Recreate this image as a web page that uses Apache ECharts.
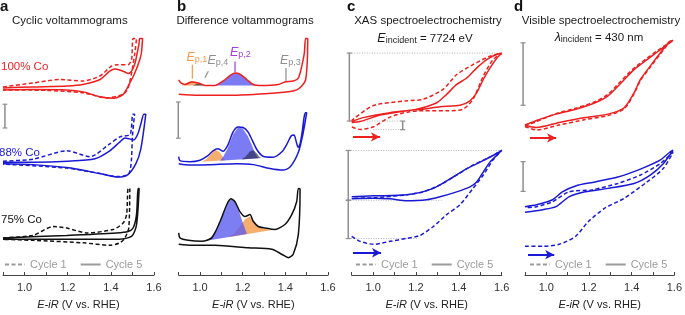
<!DOCTYPE html>
<html>
<head>
<meta charset="utf-8">
<script src="https://cdn.jsdelivr.net/npm/echarts@6.0.0/dist/echarts.min.js"></script>
<style>
  html, body { margin: 0; padding: 0; background: #fff; }
  #chart { width: 685px; height: 315px; }
</style>
</head>
<body>
<div id="chart"></div>
<script>
'use strict';

// x: E-iR (V vs. RHE); y: arbitrary units with the stacking offsets already included
const TICK_LABELS = ['1.0', '1.2', '1.4', '1.6'];
const LEGEND_NAMES = ['Cycle 1', 'Cycle 5'];

// a — cyclic voltammograms
const cvRed5 = [[0.9,189],[1.04,190],[1.2,191],[1.27,192.5],[1.35,197.5],[1.395,206],[1.42,208],[1.44,207],[1.465,205],[1.48,203.5],[1.496,206],[1.512,214],[1.522,224],[1.53,233],[1.534,239],
  [1.547,239],[1.542,225],[1.534,217.5],[1.511,204],[1.488,194],[1.457,182.5],[1.411,178.5],[1.349,180],[1.272,185],[1.195,187],[1.04,187.5],[0.9,187]];
const cvRed1 = [[0.9,190],[1.04,194],[1.164,197.5],[1.272,196],[1.349,201],[1.403,211],[1.434,212.5],[1.48,212.5],[1.496,217.5],[1.503,239],
  [1.519,239],[1.511,224],[1.496,204],[1.48,189],[1.457,182.5],[1.38,179],[1.272,184],[1.1,186.5],[0.9,187]];
const cvBlue5 = [[0.9,114],[1.04,114],[1.2,115],[1.326,117.5],[1.395,125.5],[1.442,134.5],[1.465,138.5],[1.488,137.5],[1.506,136.5],[1.525,142.5],[1.539,152.5],[1.553,162.5],
  [1.562,162.5],[1.539,127.5],[1.516,112.5],[1.479,101.5],[1.432,99],[1.349,102.5],[1.196,108.5],[1.039,111.5],[0.9,112.5]];
const cvBlue1 = [[0.9,115],[1.04,117],[1.196,125.5],[1.303,119.5],[1.395,132.5],[1.442,139.5],[1.488,141.5],[1.495,148],[1.502,162.5],
  [1.51,162.5],[1.5,140],[1.495,115],[1.485,103],[1.46,100],[1.432,99.5],[1.349,102.5],[1.196,108],[0.9,112]];
const cvBlack5 = [[0.9,37.5],[1.195,40],[1.426,42.5],[1.48,44],[1.503,47.5],[1.519,61],[1.526,87.5],
  [1.531,87.5],[1.519,51],[1.496,39],[1.411,36],[1.195,36],[0.9,36]];
const cvBlack1 = [[0.9,37.5],[1.039,40],[1.133,49],[1.195,47.5],[1.288,42.5],[1.411,46],[1.457,52.5],[1.473,61],[1.48,87.5],
  [1.488,87.5],[1.483,47.5],[1.465,37.5],[1.442,32.5],[1.395,30],[1.272,32.5],[1.04,35],[0.9,36]];

// b — difference voltammograms and fitted peaks
const dvRed = [[0.9,197],[0.91,194],[0.93,192.5],[0.961,195],[0.992,194],[1.023,191.5],[1.07,191.5],[1.109,196],[1.14,201.5],[1.164,204],[1.187,203],[1.219,197.5],[1.25,192.5],[1.289,191.5],[1.367,192.5],[1.398,195],[1.437,196],[1.461,199],[1.477,211],[1.489,224],[1.495,239],
  [1.505,239],[1.503,217],[1.495,197],[1.477,191],[1.453,187],[1.414,185],[1.305,183],[1.148,181.5],[0.992,181.5],[0.9,182.5]];
const dvBlue = [[0.9,119.5],[0.906,115.5],[0.953,114.5],[1.0,116],[1.037,120.5],[1.061,125.5],[1.084,127.5],[1.108,125],[1.131,131.5],[1.155,144.5],[1.178,149.5],[1.202,149],[1.225,144.5],[1.244,136.5],[1.267,126.5],[1.295,120],[1.342,119],[1.384,124.5],[1.408,132.5],[1.427,140.5],[1.441,141.5],[1.45,135.5],[1.46,129],[1.469,132.5],[1.479,144.5],[1.488,159.5],[1.495,164],
  [1.5,164],[1.484,144],[1.461,124],[1.422,109],[1.39,106],[1.328,107.5],[1.25,111.5],[1.172,112.5],[1.047,111.5],[0.953,111],[0.9,112.5]];
const dvBlack = [[0.9,42.5],[0.906,37.5],[0.945,35],[1.008,34],[1.055,37.5],[1.094,54],[1.125,71],[1.145,77],[1.164,74],[1.187,64],[1.211,59],[1.234,61],[1.25,54],[1.273,49],[1.305,47.5],[1.351,46],[1.398,51],[1.43,61],[1.453,74],[1.461,87.5],
  [1.469,87],[1.461,41],[1.437,21],[1.414,17.5],[1.383,21],[1.336,26],[1.226,27.5],[1.07,30],[0.961,30],[0.9,31]];
const fitRedP1 = [[0.915,191.5],[0.93,193],[0.945,195],[0.961,196],[0.978,195],[0.995,193],[1.01,191.5]];
const fitRedP4 = [[0.967,191.5],[0.98,192.8],[0.992,193.5],[1.005,192.8],[1.023,191.5]];
const fitRedP2 = [[1.07,191.5],[1.1,194],[1.125,198.5],[1.145,202.5],[1.164,204],[1.187,203],[1.21,199],[1.235,194.5],[1.26,192],[1.29,191.5]];
const fitBlueP1 = [[1.008,114.3],[1.03,117],[1.05,122],[1.07,126.5],[1.09,124.5],[1.105,120],[1.117,115.8]];
const fitBlueP2 = [[1.094,115.4],[1.11,120],[1.13,128],[1.155,142],[1.178,149],[1.2,148],[1.225,140],[1.245,130],[1.26,122],[1.273,117.9]];
const fitBlueP4 = [[1.195,116.8],[1.215,120],[1.235,125],[1.25,126],[1.265,123],[1.28,119],[1.289,118.1]];
const fitBlackP2 = [[1.023,34.3],[1.05,38],[1.08,47],[1.1,57],[1.125,71],[1.145,77],[1.165,73.5],[1.185,63],[1.2,53],[1.22,41.3]];
const fitBlackP1 = [[1.131,38.2],[1.16,42],[1.19,50],[1.21,56],[1.234,59],[1.255,54],[1.275,49.5],[1.3,47],[1.325,46],[1.351,46]];

// c — XAS at 7724 eV
const xasRed5 = [[0.9,154],[0.939,155],[1.032,161.5],[1.157,166],[1.234,167.5],[1.312,170],[1.405,171.5],[1.452,176],[1.483,184],[1.514,197.5],[1.545,209],[1.577,219],[1.6,224],
  [1.577,223],[1.53,217.5],[1.483,209],[1.437,199],[1.39,192.5],[1.343,182.5],[1.297,174],[1.203,167.5],[1.079,164],[0.954,159],[0.9,155]];
const xasRed1 = [[0.901,149.5],[0.939,147],[0.999,149.5],[1.079,159.5],[1.158,164.5],[1.233,166],[1.345,166],[1.419,167.5],[1.466,177.5],[1.513,200.5],[1.559,217.5],[1.6,224],
  [1.545,221],[1.466,212.5],[1.39,202.5],[1.326,187.5],[1.233,177.5],[1.158,176],[0.999,171],[0.9,156]];
const xasBlue5 = [[0.9,77],[1.001,77.5],[1.079,77],[1.157,75],[1.25,76],[1.312,79],[1.39,84],[1.452,89],[1.483,94],[1.514,104],[1.545,114],[1.577,121],[1.6,126],
  [1.561,121],[1.499,114],[1.437,107.5],[1.374,99],[1.281,87.5],[1.157,81],[1.001,80],[0.9,79]];
const xasBlue1 = [[0.9,39],[0.939,34],[1.001,31],[1.079,34],[1.157,37],[1.219,40],[1.281,49],[1.343,61],[1.405,71],[1.466,87.5],[1.514,101],[1.559,116],[1.6,126],
  [1.545,119],[1.466,111],[1.39,101],[1.312,91],[1.234,84],[1.157,81],[1.001,78],[0.9,77.5]];

// d — visible absorbance at 430 nm
const visRed5 = [[0.9,151],[0.954,149],[1.06,154],[1.182,159],[1.289,162.5],[1.365,169],[1.411,184],[1.441,197.5],[1.487,211],[1.533,224],[1.578,236],[1.594,237],
  [1.533,227.5],[1.472,217.5],[1.411,207.5],[1.35,194],[1.289,181],[1.228,174],[1.137,167.5],[1.045,162.5],[0.954,156],[0.9,151.5]];
const visRed1 = [[0.9,150],[0.954,146.5],[1.06,151.5],[1.182,157],[1.289,161],[1.365,168],[1.411,183],[1.441,196.5],[1.487,210],[1.533,223],[1.578,235],[1.594,237],
  [1.533,228.5],[1.472,219],[1.411,209],[1.35,196],[1.289,182.5],[1.228,175],[1.137,168.5],[1.045,163],[0.954,155],[0.9,150.5]];
const visBlue5 = [[0.9,63.5],[0.984,66],[1.045,69],[1.106,79],[1.182,84],[1.289,87.5],[1.411,92.5],[1.487,101],[1.548,112.5],[1.594,126],
  [1.578,124],[1.533,116],[1.441,107],[1.335,99],[1.228,94],[1.137,90],[1.075,84],[1.029,76],[0.954,71],[0.9,69]];
const visBlue1 = [[0.9,29],[0.984,29],[1.06,31],[1.137,39],[1.197,54],[1.274,67.5],[1.365,77.5],[1.472,94],[1.548,107.5],[1.594,124],
  [1.533,112.5],[1.441,101],[1.335,92.5],[1.212,86],[1.106,84],[1.029,74],[0.954,69],[0.9,68]];

// scale bars [x, yBottom, yTop], dotted guides [x1, x2, y] and arrows [x1, x2, y, colour], in axis units
const barsA = [[0.909, 148.5, 172.5]];
const barsB = [[0.898, 138.2, 174.8]];
const barsC = [[0.889, 155.5, 224.2], [1.138, 146.8, 155.5], [0.884, 75.5, 125.8], [0.884, 36.8, 75.5]];
const dotsC = [[0.889, 1.6, 224.2], [0.889, 1.125, 155.5], [1.0, 1.138, 146.8], [0.884, 1.6, 125.8], [0.884, 1.327, 75.5], [0.884, 1.203, 36.8]];
const barsD = [[0.891, 171.5, 234.5], [0.891, 84.5, 114.5]];
const arrowsC = [[0.906, 1.032, 139.5, 'red'], [0.906, 1.037, 22.5, 'blue']];
const arrowsD = [[0.923, 1.046, 138.5, 'red'], [0.914, 1.037, 20.5, 'blue']];
// peak markers in b: [x1, y1, x2, y2, colour]
const peakTicks = [[0.964, 198.2, 0.964, 212.5, 'orange'], [1.023, 199.2, 1.039, 205.8, 'gray'], [1.164, 204.8, 1.164, 215.8, 'purple'], [1.403, 195.8, 1.403, 209.2, 'gray']];

const C = {
  red: '#ee1f1f', blue: '#1a1ad6', black: '#111111', gray: '#8e8e8e', legend: '#9b9b9b',
  orange: '#f39a4a', fillBlue: '#5a5af0', navy: '#26264e', purple: '#a43ddb', axis: '#444'
};
const FONT = '"Liberation Sans", Arial, sans-serif';
const DASH = [4, 2.5];

const GRIDS = [
  { left: 3, width: 151 },
  { left: 178.7, width: 149.3 },
  { left: 351.7, width: 150 },
  { left: 525, width: 153 }
];

function curve(g, data, color, dashed) {
  return {
    type: 'line', xAxisIndex: g, yAxisIndex: g, data, symbol: 'none', smooth: 0.25,
    clip: false, silent: true, z: 3,
    lineStyle: { color, width: 1.5, type: dashed ? DASH : 'solid' }
  };
}

function patch(g, pts, color, opacity) {
  return {
    type: 'custom', xAxisIndex: g, yAxisIndex: g, data: [pts[0]], silent: true, z: 2,
    renderItem: (params, api) => ({
      type: 'polygon',
      shape: { points: pts.map((p) => api.coord(p)) },
      style: { fill: color, opacity }
    })
  };
}

// straight guide segments [x1, y1, x2, y2, colour, width, dash], drawn through the axes without clipping
function segments(g, segs) {
  return {
    type: 'custom', xAxisIndex: g, yAxisIndex: g, silent: true, clip: false, z: 1,
    data: segs.map((s) => [s[0], s[1], s[2], s[3]]),
    encode: { x: [0, 2], y: [1, 3] },
    renderItem: (params, api) => {
      const s = segs[params.dataIndex];
      const p1 = api.coord([s[0], s[1]]);
      const p2 = api.coord([s[2], s[3]]);
      return {
        type: 'line',
        shape: { x1: p1[0], y1: p1[1], x2: p2[0], y2: p2[1] },
        style: { stroke: s[4], lineWidth: s[5], lineDash: s[6] || null, fill: null }
      };
    }
  };
}

function guides(g, bars, dots, capW) {
  const segs = [];
  (dots || []).forEach(([x1, x2, y]) => segs.push([x1, y, x2, y, '#b0b0b0', 1, [1, 1.5]]));
  bars.forEach(([x, y1, y2]) => {
    segs.push([x, y1, x, y2, C.gray, 1.5]);
    segs.push([x - capW, y1, x + capW, y1, C.gray, 1.2]);
    segs.push([x - capW, y2, x + capW, y2, C.gray, 1.2]);
  });
  return segments(g, segs);
}

function arrows(g, list) {
  return {
    type: 'line', xAxisIndex: g, yAxisIndex: g, data: [], silent: true,
    markLine: {
      silent: true, animation: false, symbol: ['none', 'arrow'], symbolSize: [7, 9],
      label: { show: false }, emphasis: { disabled: true },
      data: list.map(([x1, x2, y, col]) => [
        { coord: [x1, y], lineStyle: { color: C[col], width: 2, type: 'solid' } },
        { coord: [x2, y] }
      ])
    }
  };
}

function xAxis(g) {
  return {
    type: 'value', gridIndex: g, min: 0.9, max: 1.6, interval: 0.1,
    axisLine: { lineStyle: { color: C.axis, width: 1 } },
    axisTick: { inside: true, length: 3, lineStyle: { color: C.axis } },
    splitLine: { show: false },
    axisLabel: {
      color: '#333', fontSize: 11, fontFamily: FONT, margin: 7, showMaxLabel: true,
      formatter: (v) => {
        const s = (Math.round(v * 10) / 10).toFixed(1);
        return TICK_LABELS.includes(s) ? s : '';
      }
    },
    name: '{i|E-iR} (V vs. RHE)', nameLocation: 'middle', nameGap: 24,
    nameTextStyle: { color: '#222', fontSize: 11, fontFamily: FONT, rich: { i: { fontStyle: 'italic', fontSize: 11, fontFamily: FONT, color: '#222' } } }
  };
}

function yAxis(g) {
  return { type: 'value', gridIndex: g, min: 0, max: 247.5, show: false };
}

function text(t, left, top, color, size, extra) {
  return Object.assign({
    text: t, left, top, padding: 0,
    textStyle: { color, fontSize: size, fontWeight: 'normal', fontFamily: FONT }
  }, extra || {});
}

function subText(main, sub, rest, left, top, color) {
  return {
    text: '{e|' + main + '}{s|' + sub + '}' + (rest ? '{n|' + rest + '}' : ''),
    left, top, padding: 0, textAlign: rest ? 'center' : 'left',
    textStyle: {
      fontFamily: FONT, color, fontWeight: 'normal',
      rich: {
        e: { fontSize: 12.5, fontStyle: 'italic', fontWeight: 'normal', color, fontFamily: FONT, lineHeight: 16, verticalAlign: 'bottom' },
        s: { fontSize: 9, fontWeight: 'normal', color, fontFamily: FONT, lineHeight: 16, verticalAlign: 'bottom', padding: [5, 0, 0, 0] },
        n: { fontSize: 11.5, fontWeight: 'normal', color, fontFamily: FONT, lineHeight: 16, verticalAlign: 'bottom' }
      }
    }
  };
}

const BOLD = { color: '#111', fontSize: 15, fontWeight: 'bold', fontFamily: FONT };
const titles = [
  text('a', 0, -1, '#111', 15, { textStyle: BOLD }),
  text('b', 177, -1, '#111', 15, { textStyle: BOLD }),
  text('c', 347, -1, '#111', 15, { textStyle: BOLD }),
  text('d', 514, -1, '#111', 15, { textStyle: BOLD }),
  text('Cyclic voltammograms', 12, 15, '#1a1a1a', 11.5),
  text('Difference voltammograms', 176.5, 15, '#1a1a1a', 11.5),
  text('XAS spectroelectrochemistry', 428, 15, '#1a1a1a', 11.5, { textAlign: 'center' }),
  text('Visible spectroelectrochemistry', 601, 15, '#1a1a1a', 11.5, { textAlign: 'center' }),
  subText('E', 'incident', ' = 7724 eV', 425, 29, '#1a1a1a'),
  subText('λ', 'incident', ' = 430 nm', 599, 28, '#1a1a1a'),
  text('100% Co', 1, 61, C.red, 11.5),
  text('88% Co', -1, 147, C.blue, 11.5),
  text('75% Co', 1, 214, C.black, 11.5),
  subText('E', 'p,1', '', 186.5, 48, C.orange),
  subText('E', 'p,4', '', 207.5, 51, C.gray),
  subText('E', 'p,2', '', 230, 43, C.purple),
  subText('E', 'p,3', '', 280, 51, C.gray)
];

function legend(left) {
  return {
    left, top: 259, padding: 0, data: LEGEND_NAMES, selectedMode: false,
    itemWidth: 20, itemHeight: 10, itemGap: 13,
    itemStyle: { opacity: 0 },
    textStyle: { color: C.legend, fontSize: 11, fontFamily: FONT }
  };
}

const series = [
  // legend keys
  { type: 'line', name: 'Cycle 1', xAxisIndex: 0, yAxisIndex: 0, data: [], symbol: 'none', itemStyle: { color: C.legend }, lineStyle: { color: C.legend, width: 1.5, type: DASH } },
  { type: 'line', name: 'Cycle 5', xAxisIndex: 0, yAxisIndex: 0, data: [], symbol: 'none', itemStyle: { color: C.legend }, lineStyle: { color: C.legend, width: 1.5 } },

  // a
  curve(0, cvRed1, C.red, true), curve(0, cvRed5, C.red, false),
  curve(0, cvBlue1, C.blue, true), curve(0, cvBlue5, C.blue, false),
  curve(0, cvBlack1, C.black, true), curve(0, cvBlack5, C.black, false),
  guides(0, barsA, null, 0.011),

  // b
  patch(1, fitRedP1, C.orange, 0.8), patch(1, fitRedP2, C.fillBlue, 0.8), patch(1, fitRedP4, C.navy, 0.7),
  patch(1, fitBlueP1, C.orange, 0.8), patch(1, fitBlueP2, C.fillBlue, 0.8), patch(1, fitBlueP4, C.navy, 0.65),
  patch(1, fitBlackP1, C.orange, 0.8), patch(1, fitBlackP2, C.fillBlue, 0.78),
  curve(1, dvRed, C.red, false), curve(1, dvBlue, C.blue, false), curve(1, dvBlack, C.black, false),
  guides(1, barsB, null, 0.011),
  segments(1, peakTicks.map(([x1, y1, x2, y2, col]) => [x1, y1, x2, y2, C[col], 1.2])),

  // c
  curve(2, xasRed1, C.red, true), curve(2, xasRed5, C.red, false),
  curve(2, xasBlue1, C.blue, true), curve(2, xasBlue5, C.blue, false),
  guides(2, barsC, dotsC, 0.012),
  arrows(2, arrowsC),

  // d
  curve(3, visRed1, C.red, true), curve(3, visRed5, C.red, false),
  curve(3, visBlue1, C.blue, true), curve(3, visBlue5, C.blue, false),
  guides(3, barsD, null, 0.012),
  arrows(3, arrowsD)
];

const chart = echarts.init(document.getElementById('chart'), null, { renderer: 'canvas' });
chart.setOption({
  animation: false,
  backgroundColor: '#fff',
  title: titles,
  legend: [legend(4), legend(355), legend(529)],
  grid: GRIDS.map((g) => ({ left: g.left, width: g.width, top: 30, height: 247.5 })),
  xAxis: GRIDS.map((g, i) => xAxis(i)),
  yAxis: GRIDS.map((g, i) => yAxis(i)),
  series
});
</script>
</body>
</html>
